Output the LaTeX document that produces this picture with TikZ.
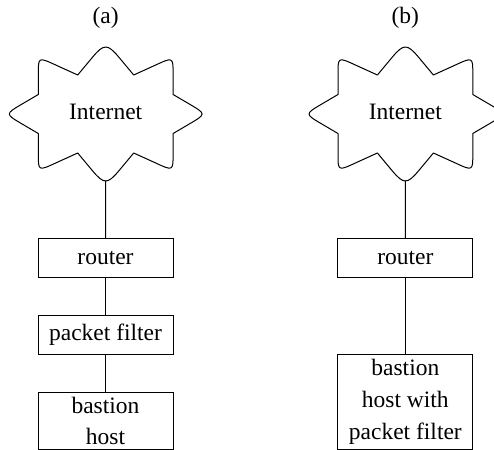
\documentclass[tikz,border=0pt]{standalone}
\usepackage{fontspec}
\setmainfont{Liberation Serif}
\begin{document}
\begin{tikzpicture}[x=0.5pt,y=-0.5pt,
  line width=0.5pt,
  txt/.style={font=\fontsize{11.75}{15.8}\selectfont, inner sep=0pt, align=center},
  boxnode/.style={txt, draw, minimum width=67.5pt},
  cloudline/.style={draw, line width=0.5pt, line join=round}]
\clip (0,0) rectangle (494,450);
\useasboundingbox (0,0) rectangle (494,450);
\newcommand{\starcloud}[2]{%
  \draw[cloudline, shift={(#1,#2)}]
  (-28,-39) -- (-13,-57) .. controls (-1.8,-70.3) and (1.8,-70.3) .. (13,-57) -- (28,-39)
  -- (50,-49) .. controls (67.4,-57) and (67.4,-57) .. (67.4,-40) -- (67.4,-19.5)
  -- (84,-9.75) .. controls (100.5,0) and (100.5,0) .. (84,9.75) -- (67.4,19.5)
  -- (67.4,40) .. controls (67.4,57) and (67.4,57) .. (50,49) -- (28,39)
  -- (13,57) .. controls (1.8,70.3) and (-1.8,70.3) .. (-13,57) -- (-28,39)
  -- (-50,49) .. controls (-67.4,57) and (-67.4,57) .. (-67.4,40) -- (-67.4,19.5)
  -- (-84,9.75) .. controls (-100.5,0) and (-100.5,0) .. (-84,-9.75) -- (-67.4,-19.5)
  -- (-67.4,-40) .. controls (-67.4,-57) and (-67.4,-57) .. (-50,-49) -- cycle;}
% (a)
\node[txt] (labA) at (105.7,18.3) {(a)};
\starcloud{105.7}{114}
\node[txt] (inetA) at (105.7,112.2) {Internet};
\coordinate (cloudA) at (105.7,180.5);
\node[boxnode, minimum height=19.15pt] (routerA) at (105.5,257.85) {router};
\node[boxnode, minimum height=19.15pt] (filterA) at (105.5,334.85) {packet filter};
\node[boxnode, minimum height=28.3pt] (bastionA) at (105.5,421) {bastion\\host};
\draw (cloudA) -- (routerA.north);
\draw (routerA.south) -- (filterA.north);
\draw (filterA.south) -- (bastionA.north);
% (b)
\node[txt] (labB) at (405.3,18.3) {(b)};
\starcloud{405.4}{114}
\node[txt] (inetB) at (405.4,112.2) {Internet};
\coordinate (cloudB) at (405.4,180.5);
\node[boxnode, minimum height=19.15pt] (routerB) at (405.35,257.85) {router};
\node[boxnode, minimum height=47.5pt] (bastionB) at (405.35,401.8) {bastion\\host with\\packet filter};
\draw (cloudB) -- (routerB.north);
\draw (routerB.south) -- (bastionB.north);
\end{tikzpicture}
\end{document}
